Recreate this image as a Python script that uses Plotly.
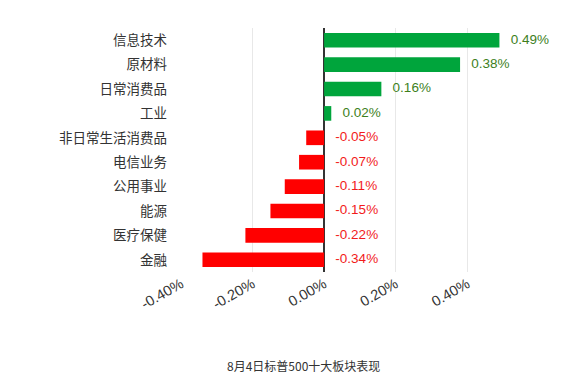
import plotly.graph_objects as go

categories = ["信息技术", "原材料", "日常消费品", "工业", "非日常生活消费品",
              "电信业务", "公用事业", "能源", "医疗保健", "金融"]
values = [0.49, 0.38, 0.16, 0.02, -0.05, -0.07, -0.11, -0.15, -0.22, -0.34]
tick_vals = [-0.4, -0.2, 0.0, 0.2, 0.4]
tick_text = ["-0.40%", "-0.20%", "0.00%", "0.20%", "0.40%"]
title_text = "8月4日标普500十大板块表现"

GREEN = "#00a53c"
RED = "#ff0000"
FONT = "Liberation Sans, Arial, Noto Sans CJK SC, sans-serif"

bar_colors = [GREEN if v >= 0 else RED for v in values]
label_colors = ["#3d7f1d" if v >= 0 else "#f21b1b" for v in values]
label_x = [max(v, 0) for v in values]
labels = [f"{v:.2f}%" for v in values]

# page body has an 8px offset; compensate in margins
OFF = 8
L, T = 181 - OFF, 28 - OFF
PW, PH = 322, 244
R = 587 - L - PW
B = 383 - T - PH

fig = go.Figure()
fig.add_trace(go.Bar(
    x=values, y=categories, orientation="h",
    marker=dict(color=bar_colors, line=dict(width=0)),
    hoverinfo="skip",
))
fig.add_trace(go.Scatter(
    x=label_x, y=categories, mode="text",
    text=["   " + t for t in labels], textposition="middle right",
    textfont=dict(family=FONT, size=13.5, color=label_colors),
    cliponaxis=False, hoverinfo="skip",
))

fig.update_layout(
    width=587, height=383,
    margin=dict(l=L, r=R, t=T, b=B, autoexpand=False),
    paper_bgcolor="white", plot_bgcolor="white",
    showlegend=False, bargap=0.4,
    font=dict(family=FONT, size=13, color="#333333"),
    xaxis=dict(
        range=[-0.4, 0.5], tickvals=tick_vals, ticktext=tick_text,
        tickangle=-30, showgrid=True, gridcolor="#e8e8e8", gridwidth=1,
        zeroline=True, zerolinecolor="#333333", zerolinewidth=1.5,
        showline=False, ticks="", tickfont=dict(size=14.5, color="#333333"),
        fixedrange=True, automargin=False,
    ),
    yaxis=dict(
        autorange="reversed", showgrid=False, showline=False, ticks="",
        tickfont=dict(family="Noto Sans CJK SC, sans-serif", size=13.5, color="#333333"),
        ticklabelstandoff=13, automargin=False,
    ),
    annotations=[dict(
        text=title_text, xref="paper", yref="paper", x=(303 - 181) / PW,
        y=-(365 - 272) / PH, xanchor="center", yanchor="middle",
        showarrow=False, font=dict(family="Noto Sans CJK SC, sans-serif", size=12, color="#333333"),
    )],
)

fig.write_html("out.html")
